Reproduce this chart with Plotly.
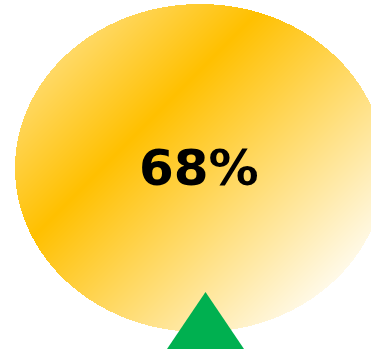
import numpy as np
import plotly.graph_objects as go

W, H = 371, 354

# headline value shown in the bubble
value = 68
label = f"{value}%"

# bubble geometry in pixel space
cx, cy, rx, ry = 200, 168, 185, 164

# diagonal gradient stops, measured along x + y
grad_pos = [121, 270, 650]
grad_colors = ["#FFD966", "#FFC000", "#FFFFFF"]

# pointer triangle under the bubble
pointer_x, pointer_tip, pointer_base, pointer_half = 205.5, 292, 349, 38.5
pointer_color = "#00B050"

xs = np.arange(W) + 0.5
ys = np.arange(H) + 0.5
X, Y = np.meshgrid(xs, ys)
inside = ((X - cx) / rx) ** 2 + ((Y - cy) / ry) ** 2 <= 1
Z = np.where(inside, X + Y, np.nan)

zmin, zmax = grad_pos[0], grad_pos[-1]
colorscale = [[(p - zmin) / (zmax - zmin), c] for p, c in zip(grad_pos, grad_colors)]

fig = go.Figure()
fig.add_trace(go.Heatmap(
    x=xs, y=ys, z=Z, zmin=zmin, zmax=zmax, colorscale=colorscale,
    showscale=False, hoverinfo="skip", zsmooth=False,
))
fig.add_trace(go.Scatter(
    x=[pointer_x - pointer_half, pointer_x, pointer_x + pointer_half, pointer_x - pointer_half],
    y=[pointer_base, pointer_tip, pointer_base, pointer_base],
    mode="lines", fill="toself", fillcolor=pointer_color,
    line=dict(width=0, color=pointer_color), hoverinfo="skip",
))
fig.add_annotation(
    x=cx - 1, y=cy, text=f"<b>{label}</b>", showarrow=False,
    font=dict(family="DejaVu Sans", size=50, color="#000000"),
    xanchor="center", yanchor="middle",
)
fig.update_layout(
    width=W, height=H, margin=dict(l=0, r=0, t=0, b=0),
    paper_bgcolor="white", plot_bgcolor="white", showlegend=False,
    xaxis=dict(range=[0, W], visible=False, fixedrange=True),
    yaxis=dict(range=[H, 0], visible=False, fixedrange=True),
)
fig.write_html("out.html")
